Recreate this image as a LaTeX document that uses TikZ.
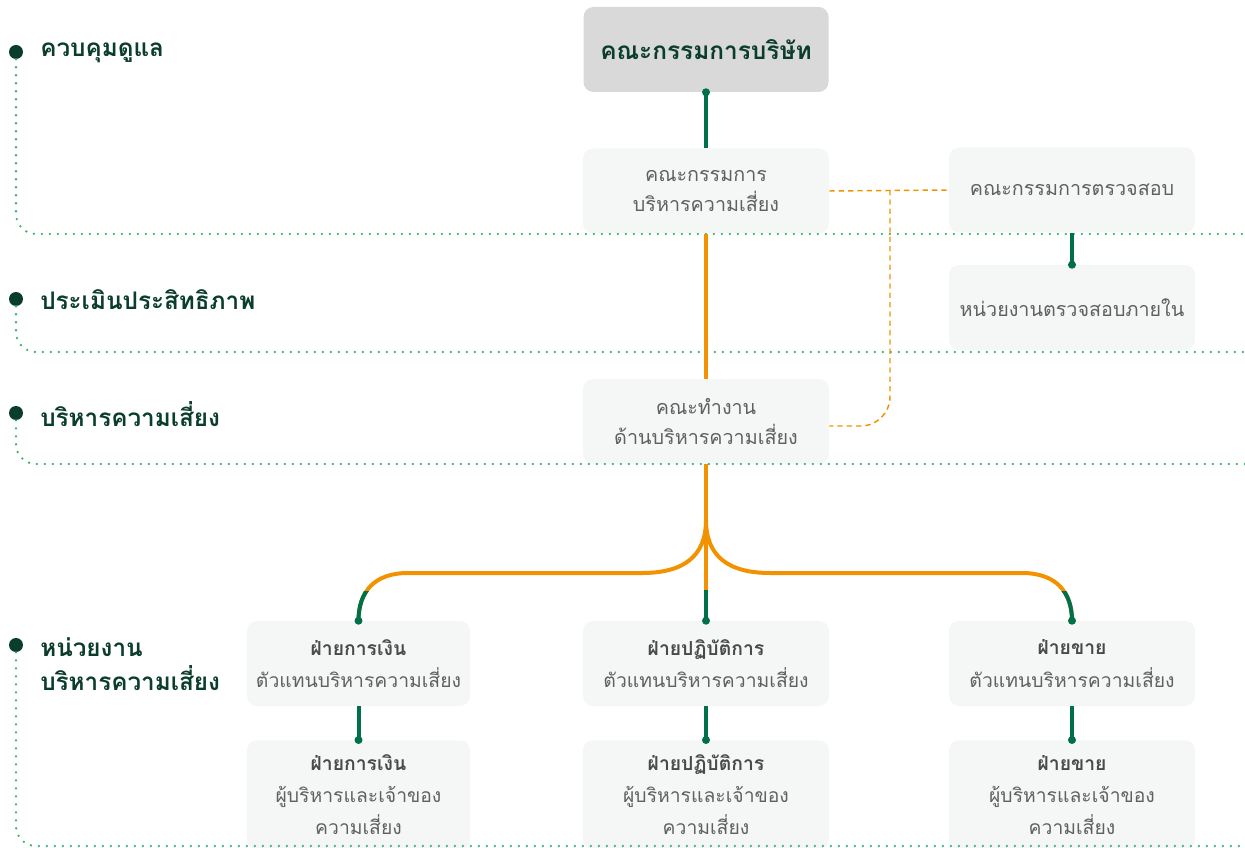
\documentclass[tikz,border=0pt]{standalone}
\usepackage{fontspec}
\setmainfont[Script=Thai]{Loma}
\usetikzlibrary{calc}
\definecolor{dkgreen}{HTML}{0B3D2B}
\definecolor{cgreen}{HTML}{00704A}
\definecolor{corange}{HTML}{F39200}
\definecolor{dotgreen}{HTML}{34B36A}
\definecolor{boxfill}{HTML}{F5F7F6}
\definecolor{topfill}{HTML}{D9D9D9}
\definecolor{txtgray}{HTML}{606060}
\definecolor{txtdark}{HTML}{4A4A4A}
\begin{document}
\begin{tikzpicture}[x=0.75pt,y=-0.75pt,
  box/.style={rounded corners=7.5pt, fill=boxfill, align=center, inner sep=0pt,
    minimum width=184.5pt, minimum height=63.75pt, text=txtgray,
    font=\fontsize{14.8}{22.5}\selectfont},
  smallbox/.style={box, minimum width=167.25pt},
  rowbox/.style={font=\fontsize{14.5}{24.5}\selectfont},
  tallbox/.style={minimum height=82pt, font=\fontsize{14.5}{24}\selectfont},
  topbox/.style={box, fill=topfill, text=dkgreen, minimum width=183.75pt,
    font=\bfseries\fontsize{18.3}{22}\selectfont},
  gline/.style={draw=cgreen, line width=3pt},
  oline/.style={draw=corange, line width=3pt},
  odash/.style={draw=corange, line width=1.1pt, dash pattern=on 4pt off 3pt},
  sep/.style={draw=dotgreen, line width=1.9pt, line cap=round,
    dash pattern=on 0pt off 6pt, rounded corners=15pt},
  gdot/.style={circle, fill=cgreen, inner sep=0pt, minimum size=6pt},
  ldot/.style={circle, fill=dkgreen, inner sep=0pt, minimum size=10.5pt},
  lbl/.style={anchor=west, text=dkgreen, font=\bfseries\fontsize{18.2}{26}\selectfont,
    align=left, inner sep=0pt}]
\useasboundingbox (0,0) rectangle (1245,848);

% boxes
\node[topbox] (board) at (706,49.5) {คณะกรรมการบริษัท};
\node[box] (rmc) at (706,191) {คณะกรรมการ\\บริหารความเสี่ยง};
\node[box] (audit) at (1072,190) {คณะกรรมการตรวจสอบ};
\node[box] (ia) at (1072,307.5) {หน่วยงานตรวจสอบภายใน};
\node[box] (wg) at (706,421.5) {คณะทำงาน\\ด้านบริหารความเสี่ยง};

\node[smallbox,rowbox] (fin1) at (358.5,663.5) {{\color{txtdark}\bfseries ฝ่ายการเงิน}\\ตัวแทนบริหารความเสี่ยง};
\node[box,rowbox] (ops1) at (706,663.5) {{\color{txtdark}\bfseries ฝ่ายปฏิบัติการ}\\ตัวแทนบริหารความเสี่ยง};
\node[box,rowbox] (sal1) at (1072,663.5) {{\color{txtdark}\bfseries ฝ่ายขาย}\\ตัวแทนบริหารความเสี่ยง};

\node[smallbox,tallbox,anchor=north] (fin2) at (358.5,740) {{\color{txtdark}\bfseries ฝ่ายการเงิน}\\ผู้บริหารและเจ้าของ\\ความเสี่ยง};
\node[box,tallbox,anchor=north] (ops2) at (706,740) {{\color{txtdark}\bfseries ฝ่ายปฏิบัติการ}\\ผู้บริหารและเจ้าของ\\ความเสี่ยง};
\node[box,tallbox,anchor=north] (sal2) at (1072,740) {{\color{txtdark}\bfseries ฝ่ายขาย}\\ผู้บริหารและเจ้าของ\\ความเสี่ยง};

% left labels
\node[ldot] (d1) at (16,52) {};
\node[lbl] (l1) at (40,53) {ควบคุมดูแล};
\node[ldot] (d2) at (16,299) {};
\node[lbl] (l2) at (40,300) {ประเมินประสิทธิภาพ};
\node[ldot] (d3) at (16,413) {};
\node[lbl] (l3) at (40,414) {บริหารความเสี่ยง};
\node[ldot] (d4) at (16,645) {};
\node[lbl] (l4) at (40,664) {หน่วยงาน\\บริหารความเสี่ยง};

% separators
\draw[sep] (d1) |- (1245,234);
\draw[sep] (d2) |- (1245,352);
\draw[sep] (d3) |- (1245,464);
\draw[sep] (d4) |- (1245,846);

% dashed orange
\draw[odash] (rmc.east) -- (audit.west);
\draw[odash, rounded corners=22pt] (890,190) |- ($(wg.east)+(0,4.5)$);

% top connectors
\draw[gline] (board.south) -- (rmc.north);
\node[gdot] at (board.south) {};
\draw[oline] (rmc.south) -- (wg.north);
\draw[gline] (audit.south) -- (ia.north);
\node[gdot] at (ia.north) {};

% branching
\coordinate (J) at (706,520);
\draw[oline] (wg.south) -- (706,590);
\draw[gline] (706,590) -- (ops1.north);
\node[gdot] at (ops1.north) {};
\def\lbranch{(J) .. controls (706,556) and (684,573) .. (642,573) -- (408,573) .. controls (374,573) and (358.5,592) .. (fin1.north)}
\def\rbranch{(J) .. controls (706,556) and (728,573) .. (770,573) -- (1022,573) .. controls (1056,573) and (1072,592) .. (sal1.north)}
\draw[oline] \lbranch;
\draw[oline] \rbranch;
\begin{scope}
  \clip (300,591) rectangle (1150,640);
  \draw[gline] \lbranch;
  \draw[gline] \rbranch;
\end{scope}
\node[gdot] at (fin1.north) {};
\node[gdot] at (sal1.north) {};

% lower connectors
\draw[gline] (fin1.south) -- (fin2.north);
\node[gdot] at (fin2.north) {};
\draw[gline] (ops1.south) -- (ops2.north);
\node[gdot] at (ops2.north) {};
\draw[gline] (sal1.south) -- (sal2.north);
\node[gdot] at (sal2.north) {};
\end{tikzpicture}
\end{document}
